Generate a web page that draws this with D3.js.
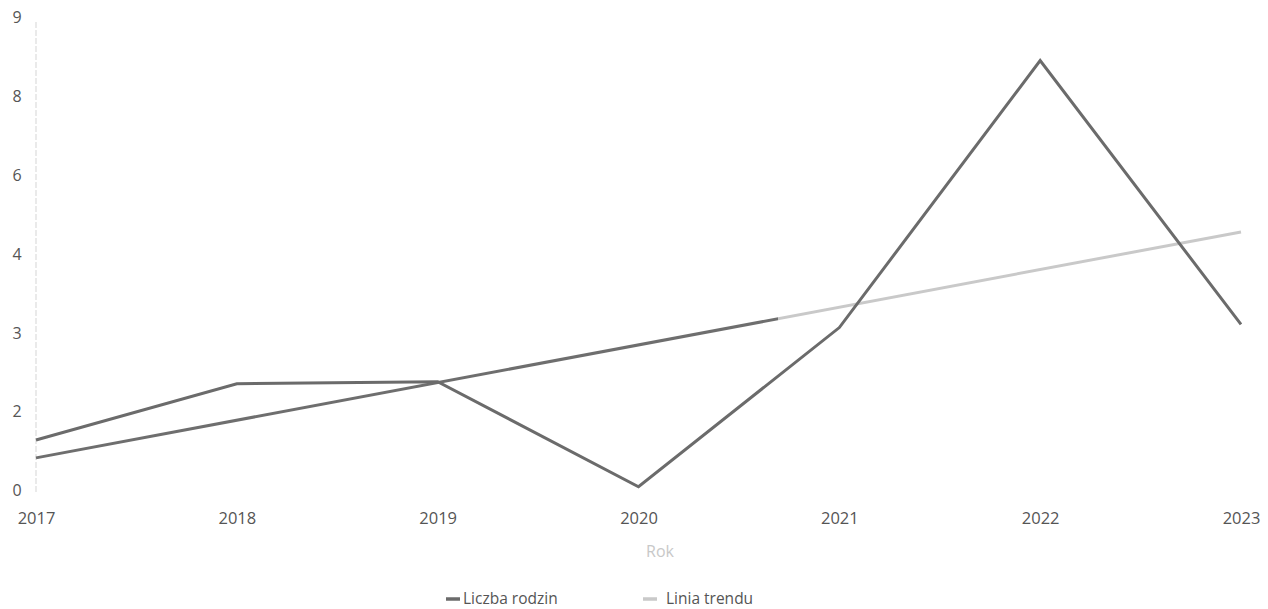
<!DOCTYPE html>
<html><head><meta charset="utf-8">
<script src="https://cdn.jsdelivr.net/npm/d3@7"></script>
<style>body{margin:0;background:#fff;}svg{display:block;}svg text{font-family:"Open Sans",sans-serif;}</style>
</head><body><svg id="c" width="1268" height="609"></svg>
<script>
const years = ["2017","2018","2019","2020","2021","2022","2023"];
const liczbaRodzin = [0.97, 2.04, 2.08, 0.08, 3.11, 8.19, 3.17];
const trendYears = ["2017","2023"];
const trendValues = [0.63, 4.93];
const yTickValues = [0, 1.5, 3, 4.5, 6, 7.5, 9];
const yTickLabels = ["0","2","3","4","6","8","9"];
const seriesNames = ["Liczba rodzin","Linia trendu"];

const svg = d3.select("#c");
const x = d3.scalePoint().domain(years).range([36, 1241]);
const y = d3.scaleLinear().domain([0, 9]).range([491, 18]);

svg.append("line").attr("x1",36).attr("x2",36).attr("y1",y(9)+4).attr("y2",y(0)+2)
  .attr("stroke","#ddd").attr("stroke-width",1.2).attr("stroke-dasharray","6,2");

const yAxis = svg.append("g").attr("transform","translate(26,0)")
  .call(d3.axisLeft(y).tickValues(yTickValues).tickFormat((d,i)=>yTickLabels[i]).tickSize(0));
yAxis.attr("font-family",null);
yAxis.select(".domain").remove();
yAxis.selectAll("text").attr("fill","#555").attr("font-size",16).attr("text-anchor","middle").attr("dx",-6).attr("dy","0.3em");

const xAxis = svg.append("g").attr("transform","translate(0,509)")
  .call(d3.axisBottom(x).tickSize(0));
xAxis.attr("font-family",null);
xAxis.select(".domain").remove();
xAxis.selectAll("text").attr("fill","#555").attr("font-size",16.5).attr("dy","0.71em");

svg.append("text").attr("x",660).attr("y",557).attr("text-anchor","middle")
  .attr("fill","#c8c8c8").attr("font-size",16).text("Rok");

const defs = svg.append("defs");
const x0 = x(trendYears[0]), x1 = x(trendYears[1]);
const frac = (778 - x0) / (x1 - x0);
const grad = defs.append("linearGradient").attr("id","tg").attr("gradientUnits","userSpaceOnUse")
  .attr("x1",x0).attr("x2",x1).attr("y1",0).attr("y2",0);
grad.append("stop").attr("offset",frac).attr("stop-color","#6e6e6e");
grad.append("stop").attr("offset",frac).attr("stop-color","#c9c9c9");

const line = d3.line().x(d=>x(d[0])).y(d=>y(d[1]));
svg.append("path").datum(trendYears.map((t,i)=>[t,trendValues[i]]))
  .attr("d",line).attr("fill","none").attr("stroke","url(#tg)").attr("stroke-width",3);

svg.append("path").datum(years.map((t,i)=>[t,liczbaRodzin[i]]))
  .attr("d",line).attr("fill","none").attr("stroke","#6b6b6b").attr("stroke-width",3)
  .attr("stroke-linejoin","miter");

const leg = [{name:seriesNames[0],color:"#6b6b6b",x:446,tx:463},{name:seriesNames[1],color:"#c9c9c9",x:643,tx:666}];
leg.forEach(l=>{
  svg.append("line").attr("x1",l.x).attr("x2",l.x+14).attr("y1",599).attr("y2",599)
    .attr("stroke",l.color).attr("stroke-width",3.5);
  svg.append("text").attr("x",l.tx).attr("y",604).attr("fill","#555").attr("font-size",15.5).text(l.name);
});
</script></body></html>
